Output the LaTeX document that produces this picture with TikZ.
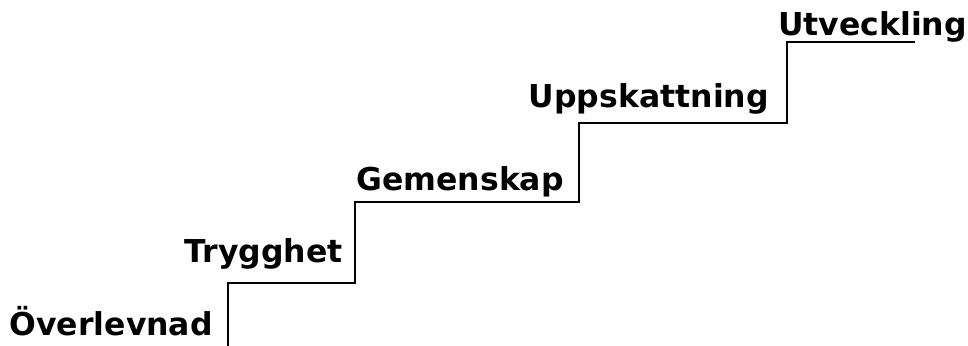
\documentclass[tikz,border=0pt]{standalone}
\usepackage{fontspec}
\setmainfont{DejaVu Sans}
\begin{document}
\begin{tikzpicture}[x=1pt,y=-1pt,
  lbl/.style={inner sep=0pt,anchor=base east,font=\bfseries\fontsize{31.5}{36}\selectfont},
  stair/.style={line width=2pt,line cap=butt,line join=miter}]
\useasboundingbox (0,0) rectangle (968,345);
\node[lbl] (s1) at (213,335) {Överlevnad};
\node[lbl] (s2) at (343,262) {Trygghet};
\node[lbl] (s3) at (564,190) {Gemenskap};
\node[lbl] (s4) at (769,107) {Uppskattning};
\node[lbl] (s5) at (967,36) {Utveckling};
\draw[stair] (228,346) -- (228,283) -- (355,283) -- (355,202) -- (579,202) -- (579,123) -- (787,123) -- (787,42) -- (915,42);
\end{tikzpicture}
\end{document}
